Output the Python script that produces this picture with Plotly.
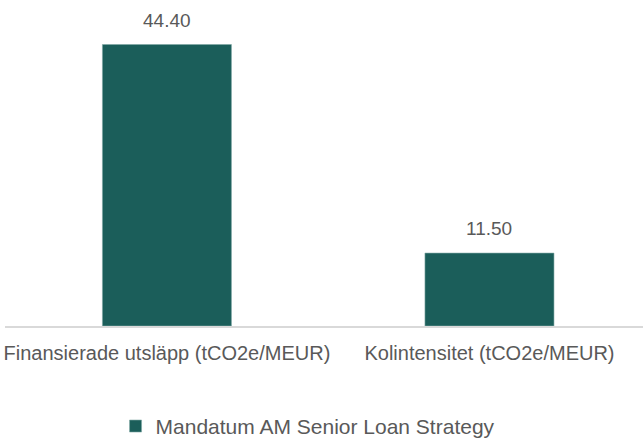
import plotly.graph_objects as go

categories = ["Finansierade utsläpp (tCO2e/MEUR)", "Kolintensitet (tCO2e/MEUR)"]
values = [44.40, 11.50]
series_name = "Mandatum AM Senior Loan Strategy"

FONT = "Liberation Sans Narrow, Arial Narrow, Liberation Sans, Arial, sans-serif"
TEXT = "#595959"

fig = go.Figure()
fig.add_trace(go.Bar(
    x=categories, y=values, name=series_name,
    marker=dict(color="#1b5e5a", line=dict(color="#7fa8a5", width=0.6)),
    width=0.40,
    cliponaxis=False,
))
for c, v in zip(categories, values):
    fig.add_annotation(x=c, y=v, text=f"{v:.2f}", showarrow=False,
                       yanchor="bottom", yshift=12,
                       font=dict(family=FONT, size=19, color=TEXT))
fig.update_layout(
    width=643, height=440,
    margin=dict(l=5, r=0, t=9, b=114, autoexpand=False),
    paper_bgcolor="white", plot_bgcolor="white",
    showlegend=True,
    legend=dict(orientation="h", x=0.475, xanchor="center", y=-0.252, yanchor="top",
                font=dict(family=FONT, size=21, color=TEXT), itemwidth=30),
    font=dict(family=FONT, color=TEXT),
)
fig.update_xaxes(showline=True, linecolor="#d9d9d9", linewidth=1.5,
                 ticks="outside", ticklen=8, tickcolor="rgba(0,0,0,0)",
                 tickfont=dict(family=FONT, size=20, color=TEXT), range=[-0.502, 1.476])
fig.update_yaxes(visible=False, range=[0, 50], showgrid=False)
fig.write_html("out.html", config={"displayModeBar": False},
               post_script="document.body.style.margin='0px';")
